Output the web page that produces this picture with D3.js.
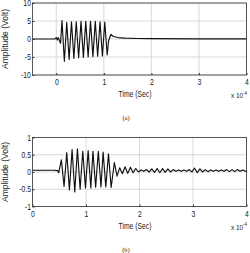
<!DOCTYPE html>
<html><head><meta charset="utf-8">
<script src="https://cdn.jsdelivr.net/npm/d3@7"></script>
<style>body{margin:0;background:#fff}svg{display:block}</style>
</head><body>
<svg id="c" width="250" height="253"></svg>
<script>
// Panel (a): time (x 1e-4 s) and amplitude (V) at signal extremes
const timeA = [-0.5,-0.03,0.0,0.02,0.04,0.06,0.09,0.12,0.17,0.22,0.27,0.32,0.37,0.42,0.47,0.52,0.57,0.62,0.67,0.72,0.77,0.82,0.87,0.92,0.97,1.02,1.07,1.10,1.15,1.20,1.30,1.45,1.7,2.0,3.0,4.0];
const voltA = [0,0,0.4,-0.3,0.4,-0.2,-1.2,5.1,-6.2,4.6,-5.7,4.8,-5.4,4.8,-5.2,4.9,-5.1,4.9,-5.0,4.9,-4.9,4.9,-4.8,4.8,-4.7,4.7,-4.4,-0.5,1.3,0.7,0.4,0.25,0.15,0.1,0.05,0.05];
// Panel (b)
const timeB = [0,0.40,0.47,0.49,0.54,0.59,0.64,0.69,0.74,0.79,0.84,0.89,0.94,0.99,1.04,1.09,1.13,1.18,1.23,1.28,1.32,1.37,1.42,1.47,1.53,1.58,1.63,1.68,1.73,1.78,1.83,1.88,1.93,1.98,2.03,2.08,2.13,2.18,2.23,2.28,2.33,2.38,2.43,2.48,2.53,2.58,2.63,2.68,2.73,2.78,2.83,2.88,2.93,2.98,3.03,3.08,3.13,3.18,3.23,3.28,3.33,3.38,3.43,3.48,3.53,3.58,3.63,3.68,3.73,3.78,3.83,3.88,3.93,3.98,4.0];
const voltB = [0.05,0.05,0.04,-0.02,0.35,-0.42,0.56,-0.52,0.65,-0.58,0.67,-0.50,0.60,-0.46,0.62,-0.46,0.60,-0.44,0.60,-0.43,0.58,-0.43,0.53,-0.45,0.27,-0.12,0.12,-0.05,0.15,-0.04,0.14,-0.02,0.10,0.0,0.06,0.02,0.07,0.0,0.09,-0.01,0.10,-0.02,0.10,-0.01,0.09,0.0,0.07,0.02,0.06,0.02,0.06,0.02,0.07,0.0,0.11,-0.02,0.09,0.0,0.07,0.01,0.06,0.02,0.06,0.02,0.06,0.02,0.07,0.01,0.07,0.01,0.07,0.02,0.06,0.02,0.04];

const ticksA_x = [0,1,2,3,4], ticksA_y = [-10,-5,0,5,10];
const ticksB_x = [0,1,2,3,4], ticksB_y = [-1,-0.5,0,0.5,1];

const svg = d3.select("#c");
const FONT = "'Liberation Sans',Arial,sans-serif";
const SQ = 0.8; // horizontal squeeze of the original figure

function htext(g, x, y, s, size, anchor, family){
  const t = g.append("text").attr("transform",`translate(${x},${y}) scale(${SQ},1)`)
    .attr("text-anchor",anchor||"start").attr("font-family",family||FONT).attr("font-size",size).attr("fill","#222");
  return t.text(s);
}

function panel(o){
  const g = svg.append("g");
  const x = d3.scaleLinear().domain(o.xd).range([o.l,o.r]);
  const y = d3.scaleLinear().domain(o.yd).range([o.b,o.t]);
  g.append("g").selectAll("line").data(o.tx).join("line")
    .attr("x1",d=>x(d)).attr("x2",d=>x(d)).attr("y1",o.t).attr("y2",o.b)
    .attr("stroke","#cfcfcf").attr("stroke-width",0.8);
  g.append("g").selectAll("line").data(o.ty).join("line")
    .attr("y1",d=>y(d)).attr("y2",d=>y(d)).attr("x1",o.l).attr("x2",o.r)
    .attr("stroke","#cfcfcf").attr("stroke-width",0.8);
  const data = o.tt.map((t,i)=>[t,o.vv[i]]);
  g.append("path").datum(data)
    .attr("d", d3.line().x(d=>x(d[0])).y(d=>y(d[1])))
    .attr("fill","none").attr("stroke","#111").attr("stroke-width",1.15).attr("stroke-linejoin","round");
  const ax = g.append("g").attr("transform",`translate(0,${o.b})`)
    .call(d3.axisBottom(x).tickValues(o.tx).tickSize(-2).tickPadding(4).tickFormat(d3.format("d")));
  const ay = g.append("g").attr("transform",`translate(${o.l},0)`)
    .call(d3.axisLeft(y).tickValues(o.ty).tickSize(-2).tickPadding(2).tickFormat(d=>String(d)));
  [ax,ay].forEach(a=>{a.select(".domain").remove();
    a.selectAll("line").attr("stroke","#333");
    a.selectAll("text").attr("font-family",FONT).attr("font-size",8.5).attr("fill","#222")
      .attr("transform",`scale(${SQ},1)`);});
  g.append("rect").attr("x",o.l).attr("y",o.t).attr("width",o.r-o.l).attr("height",o.b-o.t)
    .attr("fill","none").attr("stroke","#333").attr("stroke-width",0.8);
  g.append("text").attr("transform",`translate(${o.l-25},${(o.t+o.b)/2}) rotate(-90)`)
    .attr("text-anchor","middle").attr("font-family",FONT).attr("font-size",8.5).attr("fill","#222")
    .text("Amplitude (Volt)");
  htext(g, 135, o.b+22, "Time (Sec)", 8.5, "middle");
  const ex = htext(g, 231, o.b+23, "", 8, "start");
  ex.append("tspan").text("x 10");
  ex.append("tspan").attr("dy",-3.5).attr("font-size",5.5).text("-4");
  g.append("text").attr("x",126).attr("y",o.b+45).attr("text-anchor","middle")
    .attr("font-family","'Liberation Serif','Times New Roman',serif").attr("font-size",6.5).attr("fill","#222").text(o.cap);
}

panel({xd:[-0.5,4], yd:[-10,10], l:32.5, r:246.5, t:3, b:75, tx:ticksA_x, ty:ticksA_y, tt:timeA, vv:voltA, cap:"(a)"});
panel({xd:[0,4], yd:[-1,1], l:32.5, r:246.5, t:137.5, b:206.5, tx:ticksB_x, ty:ticksB_y, tt:timeB, vv:voltB, cap:"(b)"});
</script>
</body></html>
